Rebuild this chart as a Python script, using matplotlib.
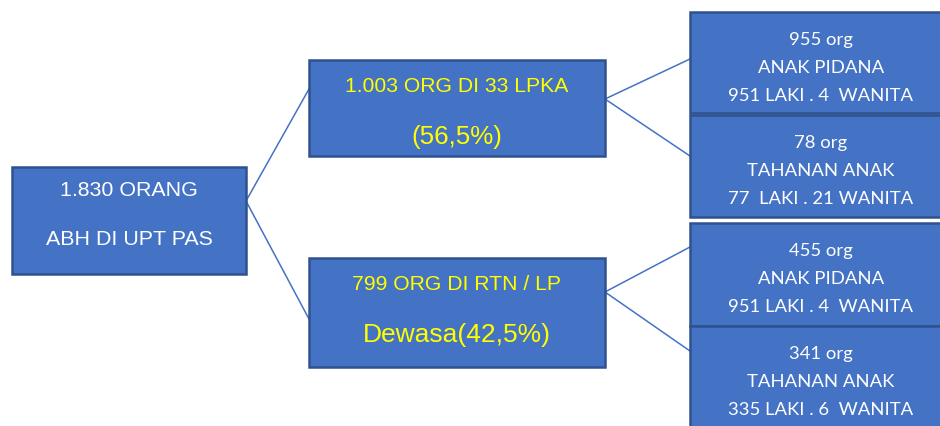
import matplotlib.pyplot as plt
from matplotlib.patches import Rectangle

# data
root_total = "1.830"
groups = ["1.003 ORG DI 33 LPKA", "799 ORG DI RTN / LP"]
group_share = ["(56,5%)", "Dewasa(42,5%)"]
leaf_counts = ["955 org", "78 org", "455 org", "341 org"]
leaf_types = ["ANAK PIDANA", "TAHANAN ANAK", "ANAK PIDANA", "TAHANAN ANAK"]
leaf_split = ["951 LAKI . 4  WANITA", "77  LAKI . 21 WANITA",
              "951 LAKI . 4  WANITA", "335 LAKI . 6  WANITA"]

FILL = '#4472C4'
EDGE = '#2F528F'
YEL = '#FFFF00'

fig = plt.figure(figsize=(9.4, 4.27), dpi=100)
ax = fig.add_axes([0, 0, 1, 1])
ax.set_xlim(0, 940)
ax.set_ylim(427, 0)
ax.axis('off')


def box(x0, y0, x1, y1):
    ax.add_patch(Rectangle((x0, y0), x1 - x0, y1 - y0, facecolor=FILL,
                           edgecolor=EDGE, linewidth=1.8, zorder=2))


# connector lines
lines = [((246, 202), (309, 90)), ((246, 202), (309, 320)),
         ((605, 100), (690, 60)), ((605, 100), (690, 157)),
         ((605, 293), (690, 248)), ((605, 293), (690, 352))]
for (xa, ya), (xb, yb) in lines:
    ax.plot([xa, xb], [ya, yb], color=FILL, lw=1.1, zorder=1)

# root
box(12, 168, 246, 275)
ax.text(129, 191, f"{root_total} ORANG", color='white', fontsize=15.4,
        family='Liberation Sans', ha='center', va='center', zorder=3)
ax.text(129, 240, "ABH DI UPT PAS", color='white', fontsize=15.4,
        family='Liberation Sans', ha='center', va='center', zorder=3)

# middle level
mid_y = [(61, 157), (259, 368)]
share_size = [18.7, 19]
for i, (y0, y1) in enumerate(mid_y):
    box(309, y0, 605, y1)
    ax.text(457, y0 + 26, groups[i], color=YEL, fontsize=15.2,
            family='Liberation Sans', ha='center', va='center', zorder=3)
    ax.text(457, y0 + 76, group_share[i], color=YEL, fontsize=share_size[i],
            family='Liberation Sans', ha='center', va='center', zorder=3)

# leaves
leaf_y = [(13, 114), (116, 218), (224, 327), (327, 440)]
for i, (y0, y1) in enumerate(leaf_y):
    box(690, y0, 960, y1)
    for k, s in enumerate([leaf_counts[i], leaf_types[i], leaf_split[i]]):
        ax.text(821, y0 + 27 + 28 * k, s, color='white', fontsize=13.3,
                family='Lato', ha='center', va='center', zorder=3)

fig.savefig('out.png', dpi=100, facecolor='white')
